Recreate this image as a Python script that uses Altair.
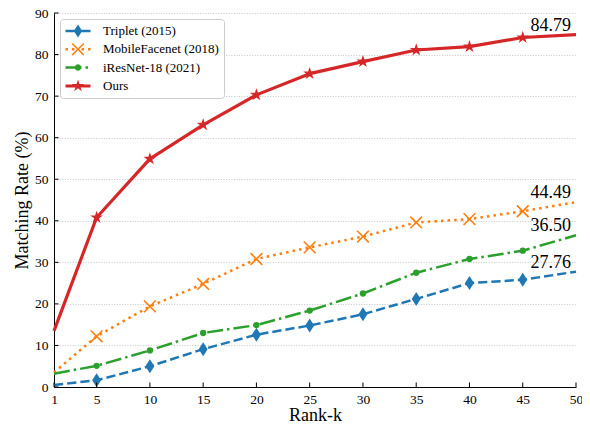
import math
import altair as alt
import pandas as pd

# ---------------- data ----------------
ranks = [1, 5, 10, 15, 20, 25, 30, 35, 40, 45, 50]
series_names = ["Triplet (2015)", "MobileFacenet (2018)", "iResNet-18 (2021)", "Ours"]
triplet = [0.5, 1.6, 5.0, 9.1, 12.6, 14.8, 17.5, 21.2, 25.0, 25.8, 27.76]
mobilefacenet = [3.5, 12.2, 19.4, 24.8, 30.8, 33.6, 36.2, 39.6, 40.4, 42.3, 44.49]
iresnet18 = [3.2, 5.1, 8.8, 13.0, 14.9, 18.4, 22.5, 27.5, 30.8, 32.8, 36.50]
ours = [13.5, 40.8, 54.9, 63.1, 70.3, 75.4, 78.3, 81.1, 81.9, 84.1, 84.79]
x_ticks = [1, 5, 10, 15, 20, 25, 30, 35, 40, 45, 50]
y_ticks = [0, 10, 20, 30, 40, 50, 60, 70, 80, 90]
colors = ["#1f77b4", "#ff7f0e", "#2ca02c", "#d62728"]

values = [triplet, mobilefacenet, iresnet18, ours]
rows = []
for name, vals in zip(series_names, values):
    for r, v in zip(ranks, vals):
        rows.append({"series": name, "rank": r, "rate": v})
df = pd.DataFrame(rows)

lbl_df = pd.DataFrame({
    "rank": [ranks[-1]] * 4,
    "rate": [v[-1] for v in values],
    "label": [f"{v[-1]:.2f}" for v in values],
})
xt_df = pd.DataFrame({"rank": x_ticks})
yt_df = pd.DataFrame({"rate": y_ticks})

FONT = "Liberation Serif"

# ---------------- shape helpers ----------------
def f(v):
    return f"{v:.4f}"

def rect(x0, x1, h):
    return f"M{f(x0)},{f(-h)}L{f(x1)},{f(-h)}L{f(x1)},{f(h)}L{f(x0)},{f(h)}Z"

def diamond(hh, hw):
    return f"M0,{f(-hh)}L{f(hw)},0L0,{f(hh)}L{f(-hw)},0Z"

def star(R, r):
    pts = []
    for i in range(10):
        ang = math.radians(-90 + 36 * i)
        rad = R if i % 2 == 0 else r
        pts.append((rad * math.cos(ang), rad * math.sin(ang)))
    return "M" + "L".join(f"{f(x)},{f(y)}" for x, y in pts) + "Z"

def circle(r):
    return f"M{f(r)},0A{f(r)},{f(r)} 0 1,1 {f(-r)},0A{f(r)},{f(r)} 0 1,1 {f(r)},0Z"

def xpoly(a, h):
    s = h * math.sqrt(2)
    d = h / math.sqrt(2)
    pts = [
        (0, -s), (a - d, -a - d), (a + d, -a + d),
        (s, 0), (a + d, a - d), (a - d, a + d),
        (0, s), (-a + d, a + d), (-a - d, a - d),
        (-s, 0), (-a - d, -a + d), (-a + d, -a - d),
    ]
    return "M" + "L".join(f"{f(x)},{f(y)}" for x, y in pts) + "Z"

# legend symbols (unit = 13 px, symbol box 26 px)
U = 13.0
L = 12.5 / U
leg_paths = [
    rect(-L, L, 1.25 / U) + diamond(6.5 / U, 4.2 / U),
    "".join(rect(c / U - 1.25 / U, c / U + 1.25 / U, 1.25 / U) for c in [-11.25, -4.8, 4.8, 11.25])
    + xpoly(5.8 / U, 0.75 / U),
    rect(-L, 3.5 / U, 1.25 / U) + rect(7.5 / U, 10 / U, 1.25 / U) + circle(3.25 / U),
    rect(-L, L, 1.5 / U) + star(6.5 / U, 6.5 * 0.38 / U),
]

# data markers
marker_specs = [
    dict(shape=diamond(1, 0.64), size=196, filled=True, strokeWidth=0),
    dict(shape="M-1,-1L1,1M-1,1L1,-1", size=137, filled=False, strokeWidth=1.6),
    dict(shape="circle", size=40, filled=True, strokeWidth=0),
    dict(shape=star(1, 0.38), size=180, filled=True, strokeWidth=0),
]
dashes = [[9.25, 4], [2.5, 4.1], [16, 4, 2.5, 4], None]
widths = [2.5, 2.5, 2.5, 3.2]

# ---------------- encodings ----------------
x_scale = alt.Scale(domain=[1, 50], nice=False, zero=False)
y_scale = alt.Scale(domain=[0, 90], nice=False, zero=True)
x_axis = alt.Axis(
    values=x_ticks, title="Rank-k", grid=False, ticks=False, labelFlush=False,
    labelOverlap=False, labelPadding=5, titlePadding=1, labelFontSize=13.5,
    titleFontSize=18, labelFont=FONT, titleFont=FONT, labelColor="black",
    titleColor="black", titleFontWeight="normal", domainColor="black", domainWidth=1,
)
y_axis = alt.Axis(
    values=y_ticks, title="Matching Rate (%)", grid=True, gridDash=[1, 1.6],
    gridColor="#b8b8b8", gridWidth=0.8, ticks=False, labelPadding=6,
    titlePadding=3, labelFontSize=13.5, titleFontSize=18, labelFont=FONT,
    titleFont=FONT, labelColor="black", titleColor="black",
    titleFontWeight="normal", domainColor="black", domainWidth=1,
)
x_enc = alt.X("rank:Q", scale=x_scale, axis=x_axis)
y_enc = alt.Y("rate:Q", scale=y_scale, axis=y_axis)

layers = []
for name, color, dash, w, mk in zip(series_names, colors, dashes, widths, marker_specs):
    line_kwargs = dict(color=color, strokeWidth=w, strokeJoin="round", strokeCap="butt")
    if dash is not None:
        line_kwargs["strokeDash"] = dash
    line = (
        alt.Chart(df)
        .transform_filter(alt.datum.series == name)
        .mark_line(**line_kwargs)
        .encode(x=x_enc, y=y_enc)
    )
    pts = (
        alt.Chart(df)
        .transform_filter((alt.datum.series == name) & (alt.datum.rank >= 5) & (alt.datum.rank <= 45))
        .mark_point(
            shape=mk["shape"], size=mk["size"], filled=mk["filled"],
            color=color, opacity=1, strokeWidth=mk["strokeWidth"],
        )
        .encode(x=x_enc, y=y_enc)
    )
    layers += [line, pts]

labels = (
    alt.Chart(lbl_df)
    .mark_text(align="right", baseline="alphabetic", dx=-5, dy=-4,
               font=FONT, fontSize=18, color="black")
    .encode(x=x_enc, y=y_enc, text="label:N")
)

legend_obj = alt.Legend(
    title=None, orient="top-left", offset=6, padding=5, strokeColor="#cccccc",
    fillColor="white", cornerRadius=3, labelFont=FONT, labelFontSize=13,
    labelFontWeight="normal", labelColor="black", labelOffset=12,
    rowPadding=4.3, clipHeight=14, symbolSize=676,
    symbolStrokeWidth=0, symbolOpacity=1,
)
legend_layer = (
    alt.Chart(df)
    .transform_filter("false")
    .mark_point(filled=True, opacity=1)
    .encode(
        color=alt.Color("series:N", scale=alt.Scale(domain=series_names, range=colors), legend=legend_obj),
        shape=alt.Shape("series:N", scale=alt.Scale(domain=series_names, range=leg_paths), legend=legend_obj),
    )
)

xticks_layer = (
    alt.Chart(xt_df)
    .mark_rule(color="black", strokeWidth=1)
    .encode(x=x_enc, y=alt.value(374), y2=alt.value(369.5))
)
yticks_layer = (
    alt.Chart(yt_df)
    .mark_rule(color="black", strokeWidth=1)
    .encode(y=y_enc, x=alt.value(0), x2=alt.value(4.5))
)

chart = (
    alt.layer(*layers, labels, legend_layer, xticks_layer, yticks_layer)
    .properties(
        width=522, height=374,
        padding={"left": 46, "top": 5, "right": 6, "bottom": 39},
        autosize=alt.AutoSizeParams(type="none"),
    )
    .configure(font=FONT)
    .configure_view(stroke=None)
)

chart.save("out.html", embed_options={"renderer": "svg", "actions": False})
